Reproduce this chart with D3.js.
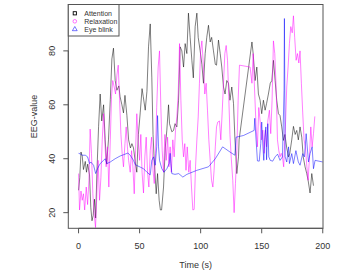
<!DOCTYPE html>
<html>
<head>
<meta charset="utf-8">
<script src="https://cdn.jsdelivr.net/npm/d3@7"></script>
<style>
  body { margin: 0; background: #fff; }
  svg { display: block; font-family: "Liberation Sans", Arial, sans-serif; }
</style>
</head>
<body>
<div id="chart"></div>
<script>
// Attention (black, semi transparent)
const attTime = [0, 1, 2, 3, 4, 5.5, 6.5, 7.5, 9, 10, 11, 12, 13, 14, 15, 16.4, 17.7, 19, 20.5, 21.8,
  23, 24.5, 26, 27.3, 28.6, 30, 31.4, 33, 34, 35.5, 36.8, 38, 39.6, 41, 42.5, 43.7, 45, 46.4, 47.7, 49,
  50.5, 52, 53, 54.6, 56, 57.3, 58.7, 60, 61, 62, 63.6, 64.7, 66, 67, 68, 69.6, 71, 72.3, 73.7, 74.5,
  76.4, 77.8, 79, 80.5, 81.9, 83.2, 84.6, 86, 87.3, 88.7, 90, 91.4, 92.8, 94, 95.5, 96.9, 98, 99.6, 101, 102.3,
  103.7, 105, 106.4, 107.8, 109, 110.5, 112, 113, 114.6, 116, 117.3, 118.7, 120, 121.4, 122.8, 124, 125.5, 126.9, 128, 129.6,
  131, 131.5, 142, 143, 144.6, 146, 147.3, 148.7, 150, 151.4, 152.8, 154, 155.5, 157, 158.3, 159.6, 161, 162.3, 163.7, 165,
  166.4, 167.8, 169, 170.5, 172, 173, 174.6, 176, 177.4, 178.7, 180, 181.4, 182.8, 184, 185.5, 186.9, 188, 189.6, 191, 192.4];
const attValue = [28.3, 33, 42.5, 41, 36, 39, 35, 38, 34, 22, 17, 19, 25, 18, 34.5, 52, 64, 54, 60, 47,
  38, 47, 62, 77, 81, 69, 65.4, 67, 63, 60, 57, 63.5, 56, 47, 44, 45.6, 44, 39, 35, 49,
  57, 66, 63, 58, 65, 81.5, 90, 70, 49, 39, 27, 34.5, 24.6, 21, 21, 29.5, 44, 50.6, 60, 53,
  50, 50.5, 53, 51.8, 61.7, 81.5, 80, 74, 82.7, 79, 94, 85, 76.5, 70, 89, 94, 85, 80, 75, 68,
  79, 85, 89.5, 83.3, 85, 80, 75, 74.7, 84, 79, 74, 66.6, 64, 69, 68, 61.7, 66.6, 60.5, 48, 34.5,
  40.7, 47, 83.3, 79, 69, 74, 64, 61.7, 56.7, 61.7, 58, 60.5, 64, 68, 69, 76.5, 69, 61.7, 56.7, 56,
  51.8, 46.8, 49, 44, 40.7, 42, 47, 52, 49, 50.5, 47, 51.8, 48, 40.7, 37, 34.5, 32, 27.3, 34.5, 30];

// Relaxation (magenta, semi transparent)
const relTime = [0, 0.8, 2, 3, 4, 5, 6.3, 7.4, 8.5, 9.5, 10.6, 11.7, 12.8, 13.9, 15, 16, 17.2, 18.3, 19.4, 20.5,
  21.6, 22.6, 23.7, 24.8, 26, 27, 28, 29.2, 30.3, 31.4, 32.5, 33.6, 34.7, 35.7, 36.8, 38, 39, 40, 41, 42.3,
  43.4, 44.5, 45.6, 46.7, 47.7, 48.8, 50, 51, 52, 53.2, 54.3, 55.4, 56.5, 57.6, 58.7, 59.8, 61, 62, 63, 64,
  65.2, 66.3, 67.4, 68.5, 69.6, 70.7, 71.8, 72.9, 74, 75, 76, 77.2, 78.3, 79.4, 80.5, 81.6, 82.7, 83.8, 84.9, 86,
  87, 88, 89, 90.3, 91.4, 92.5, 93.6, 94.7, 95.8, 96.9, 98, 99, 100, 101, 102.3, 103.4, 104.5, 105.6, 106.7, 107.8,
  108.9, 110, 111, 112, 113, 114, 115.4, 116.5, 117.6, 118.7, 119.8, 120.9, 122, 123, 124, 125, 126.3, 127.4, 128.5, 129.6,
  130.7, 131.8, 140.5, 142, 143, 144.3, 145.4, 146.5, 147.6, 148.7, 149.8, 150.9, 152, 153, 154, 155, 156.3, 157.4, 158.5, 159.6,
  160.7, 161.8, 162.9, 164, 165, 166, 167, 168, 169.4, 170.5, 171.6, 172.7, 173.8, 175, 176, 177, 178.2, 179.3, 180.4, 181.4,
  182.5, 183.6, 184.7, 185.8, 187, 188, 189, 190.2, 191.3, 192.4, 193.5];
const relValue = [34.5, 21, 28, 24.6, 27, 21, 29.5, 23, 32, 51, 42, 27, 19.6, 14.5, 27, 39.4, 24.6, 33, 47, 56.7,
  45.6, 37, 44.4, 29.5, 47, 63, 69, 66.6, 64, 71, 74.7, 61.7, 49, 42, 37, 45.6, 51.8, 44.4, 39.4, 35,
  43, 37, 27, 43, 56.7, 47, 39.4, 49, 35, 27.3, 40.7, 48, 35, 29.5, 43, 48, 35.7, 30.8, 42, 59,
  74, 80, 59, 43, 35, 49, 39.4, 48, 37, 44.4, 35, 47, 40.7, 50.6, 55.5, 64, 82.7, 61.7, 47, 40.7,
  45.6, 35.7, 44.4, 35, 39.4, 29.5, 21, 21.2, 37, 47, 55.5, 68, 80, 83.7, 74, 64, 68, 58, 47, 39.4,
  32, 29.5, 35.7, 44.4, 51.8, 53.6, 54, 47, 57, 68, 79, 82, 76.5, 63, 49, 40.7, 32, 20, 30.8, 43,
  61.7, 74.7, 74, 68, 79, 64, 51.8, 44.4, 59, 54, 47, 50.6, 42, 50.6, 44.4, 54, 58, 49.3, 61.7, 83.7,
  79, 66.6, 47, 43, 40.7, 42, 40.7, 37, 51.8, 66.6, 74, 82.7, 89, 86.7, 93, 85, 76.5, 79, 75.5, 80,
  68, 57, 47, 44.4, 37, 32, 39.4, 51.8, 44.4, 49.3, 55.7];

// Eye blink (blue, semi transparent)
const blinkTime = [0, 1.4, 3, 5.5, 7.4, 9, 10, 12.3, 14, 15.6, 17.7, 20.5, 21.8, 23.2, 26, 30, 34, 40.4, 42.3, 45,
  46.4, 47.7, 50.5, 53.2, 56, 58.7, 60, 61.4, 62.8, 64, 64.7, 65.5, 66.3, 68.2, 70, 72.3, 74.2, 75, 75.6, 76.4,
  79, 82, 85.4, 88.7, 96.9, 106.4, 112, 118, 124, 128, 129, 135, 143.8, 144.3, 145.4, 146.5, 148, 149.2, 150, 151,
  151.7, 152.5, 153.4, 154, 155, 155.8, 157, 159, 161, 163, 165, 167, 168.3, 168.6, 169.2, 170.5, 172, 172.7, 174.6, 176,
  178, 180, 181.4, 183.6, 185, 186.4, 188.3, 189.6, 191.3, 192.4, 193.7, 200];
const blinkValue = [42, 41.8, 41.3, 41.3, 40.7, 38.2, 38.8, 37.6, 34.5, 36.4, 38.2, 39.4, 40, 38.2, 38.8, 40, 41, 42.1, 41.3, 39.4,
  37.8, 37.5, 36.9, 36.3, 35, 34, 39.4, 40.7, 37.6, 44.4, 56, 44.4, 39.4, 36.3, 35, 36.3, 38.2, 42, 38.2, 34.5,
  34.2, 34.5, 33.2, 34.2, 35.7, 37, 40, 44.4, 42.5, 41.3, 48, 48.6, 50.5, 55, 47, 39.2, 39.1, 45.6, 53.6, 44.4,
  39.4, 48, 51.8, 39.6, 53, 40.7, 39.4, 39.1, 40.7, 41.7, 39.4, 40.7, 65.4, 92, 40.7, 38.8, 44.4, 38.2, 41.9, 38.2,
  43, 38.8, 37.6, 41.9, 40.7, 49.3, 38.8, 41.9, 44.4, 36.3, 39.4, 38.8];

const xTicks = [0, 50, 100, 150, 200];
const yTicks = [20, 40, 60, 80];
const legendLabels = ['Attention', 'Relaxation', 'Eye blink'];

const W = 363, H = 273;
const box = { left: 68.3, right: 323, top: 4.5, bottom: 228.3 };
const axisColor = '#555';
const fontFam = '"Liberation Sans", Arial, sans-serif';

const x = d3.scaleLinear().domain([-8.4, 200.2]).range([box.left, box.right]);
const y = d3.scaleLinear().domain([14.2, 97.2]).range([box.bottom, box.top]);

const svg = d3.select('#chart').append('svg')
  .attr('width', W).attr('height', H);

const series = [
  { name: legendLabels[0], color: '#000000', t: attTime, v: attValue, shape: 'square' },
  { name: legendLabels[1], color: '#ff00ff', t: relTime, v: relValue, shape: 'circle' },
  { name: legendLabels[2], color: '#0000ff', t: blinkTime, v: blinkValue, shape: 'triangle' }
];

const plot = svg.append('g');
series.forEach(s => {
  const pts = s.t.map((t, i) => [t, s.v[i]]);
  // each segment on its own so overlaps darken like in R with alpha colours
  plot.append('g').selectAll('line')
    .data(d3.pairs(pts)).enter()
    .append('line')
    .attr('x1', d => x(d[0][0])).attr('y1', d => y(d[0][1]))
    .attr('x2', d => x(d[1][0])).attr('y2', d => y(d[1][1]))
    .attr('stroke', s.color)
    .attr('stroke-opacity', 0.5)
    .attr('stroke-width', 1)
    .attr('stroke-linecap', 'butt');
});

// plot frame
svg.append('rect')
  .attr('x', box.left).attr('y', box.top)
  .attr('width', box.right - box.left).attr('height', box.bottom - box.top)
  .attr('fill', 'none').attr('stroke', axisColor).attr('stroke-width', 1);

// x axis
const xAxis = svg.append('g').attr('transform', `translate(0,${box.bottom})`);
xAxis.append('line')
  .attr('x1', x(xTicks[0])).attr('x2', x(xTicks[xTicks.length - 1]))
  .attr('stroke', axisColor);
xAxis.selectAll('.tick').data(xTicks).enter().append('line')
  .attr('x1', d => x(d)).attr('x2', d => x(d))
  .attr('y1', 0).attr('y2', 5)
  .attr('stroke', axisColor);
xAxis.selectAll('text').data(xTicks).enter().append('text')
  .attr('x', d => x(d)).attr('y', 20.5)
  .attr('text-anchor', 'middle')
  .attr('font-size', 9).attr('fill', '#333')
  .style('font-family', fontFam)
  .text(d => d);

// y axis
const yAxis = svg.append('g').attr('transform', `translate(${box.left},0)`);
yAxis.append('line')
  .attr('y1', y(yTicks[0])).attr('y2', y(yTicks[yTicks.length - 1]))
  .attr('stroke', axisColor);
yAxis.selectAll('.tick').data(yTicks).enter().append('line')
  .attr('y1', d => y(d)).attr('y2', d => y(d))
  .attr('x1', 0).attr('x2', -5)
  .attr('stroke', axisColor);
yAxis.selectAll('text').data(yTicks).enter().append('text')
  .attr('transform', d => `translate(-13,${y(d)}) rotate(-90)`)
  .attr('text-anchor', 'middle')
  .attr('font-size', 9).attr('fill', '#333')
  .style('font-family', fontFam)
  .text(d => d);

// axis titles
svg.append('text')
  .attr('x', (box.left + box.right) / 2).attr('y', 268)
  .attr('text-anchor', 'middle')
  .attr('font-size', 9).attr('fill', '#333')
  .style('font-family', fontFam)
  .text('Time (s)');
svg.append('text')
  .attr('transform', `translate(36.5,${(box.top + box.bottom) / 2}) rotate(-90)`)
  .attr('text-anchor', 'middle')
  .attr('font-size', 9).attr('fill', '#333')
  .style('font-family', fontFam)
  .text('EEG-value');

// legend
const legend = svg.append('g').attr('transform', `translate(${box.left},${box.top})`);
legend.append('rect')
  .attr('width', 50.7).attr('height', 31.5)
  .attr('fill', '#fff').attr('stroke', axisColor);

const item = legend.selectAll('.legend').data(series).enter()
  .append('g').attr('class', 'legend')
  .attr('transform', (d, i) => `translate(6.5,${8.8 + i * 8})`);

item.each(function (d) {
  const g = d3.select(this);
  if (d.shape === 'square') {
    g.append('rect').attr('x', -1.6).attr('y', -1.6).attr('width', 3.2).attr('height', 3.2)
      .attr('fill', 'none').attr('stroke', d.color).attr('stroke-width', 0.9);
  } else if (d.shape === 'circle') {
    g.append('circle').attr('r', 1.8)
      .attr('fill', 'none').attr('stroke', d.color).attr('stroke-opacity', 0.6).attr('stroke-width', 0.9);
  } else {
    g.append('path').attr('d', d3.symbol(d3.symbolTriangle, 10)())
      .attr('fill', 'none').attr('stroke', d.color).attr('stroke-opacity', 0.6).attr('stroke-width', 0.9);
  }
  g.append('text')
    .attr('x', 9.5).attr('y', 2.5)
    .attr('font-size', 7).attr('fill', '#333')
    .style('font-family', fontFam)
    .text(d.name);
});
</script>
</body>
</html>
